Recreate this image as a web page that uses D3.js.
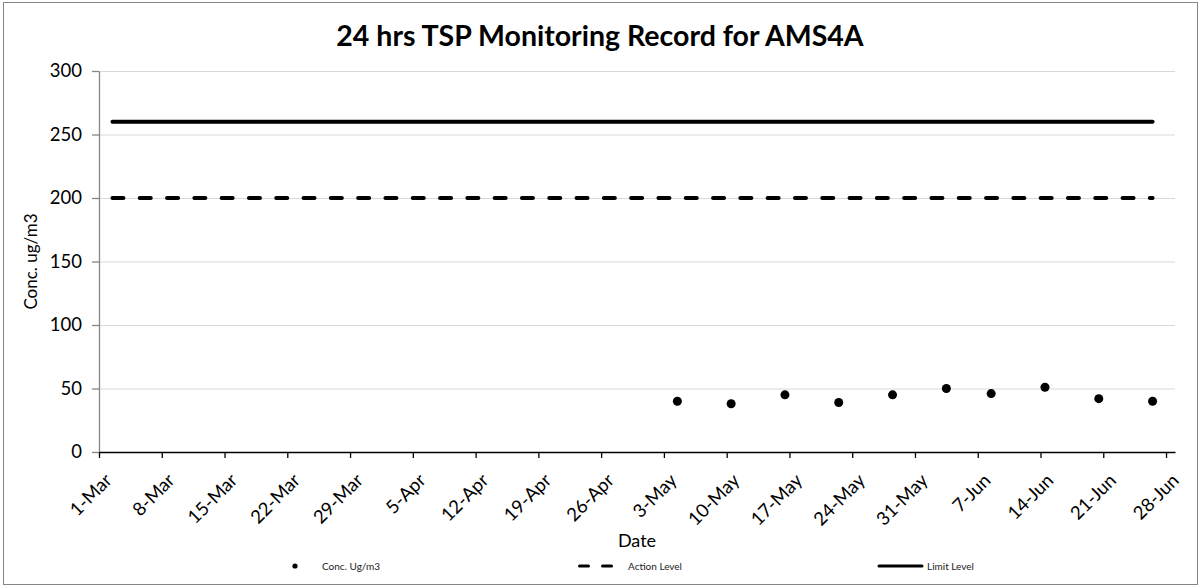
<!DOCTYPE html>
<html>
<head>
<meta charset="utf-8">
<script src="https://cdn.jsdelivr.net/npm/d3@7"></script>
<style>
  html, body { margin: 0; padding: 0; background: #fff; }
  svg { display: block; font-family: Lato, "Open Sans", sans-serif; }
</style>
</head>
<body>
<svg id="chart" width="1199" height="587"></svg>
<script>
// ---- data ----
const sampleDates = ["2023-05-04","2023-05-10","2023-05-16","2023-05-22","2023-05-28",
                     "2023-06-03","2023-06-08","2023-06-14","2023-06-20","2023-06-26"];
const concValues  = [40, 38, 45, 39, 45, 50, 46, 51, 42, 40];
const levelDates  = ["2023-03-02", "2023-06-26"];
const actionLevel = [200, 200];
const limitLevel  = [260, 260];
const xTickLabels = ["1-Mar","8-Mar","15-Mar","22-Mar","29-Mar","5-Apr","12-Apr","19-Apr",
                     "26-Apr","3-May","10-May","17-May","24-May","31-May","7-Jun","14-Jun",
                     "21-Jun","28-Jun"];
const yTicks      = [0, 50, 100, 150, 200, 250, 300];
const xDomain     = ["2023-03-01", "2023-06-29"];
const titleText   = "24 hrs TSP Monitoring Record for AMS4A";
const yTitle      = "Conc. ug/m3";
const xTitle      = "Date";
const legendNames = ["Conc. Ug/m3", "Action Level", "Limit Level"];

// ---- layout ----
const svg = d3.select("#chart");
const plot = { left: 99, right: 1175, top: 71, bottom: 452 };
const parse = d3.utcParse("%Y-%m-%d");
const fmt = d3.utcFormat("%-d-%b");

const x = d3.scaleUtc().domain(xDomain.map(parse)).range([plot.left, plot.right]);
const y = d3.scaleLinear().domain([0, 300]).range([plot.bottom, plot.top]);
const mid = d => d3.utcHour.offset(parse(d), 12); // Excel date axis: points between ticks

// chart border
svg.append("rect").attr("x", 3.5).attr("y", 2.5).attr("width", 1194).attr("height", 582)
  .attr("fill", "#fff").attr("stroke", "#868686").attr("stroke-width", 1);

// gridlines
svg.append("g").selectAll("line").data(yTicks.filter(v => v > 0)).join("line")
  .attr("x1", plot.left).attr("x2", plot.right)
  .attr("y1", d => y(d) + 0.5).attr("y2", d => y(d) + 0.5)
  .attr("stroke", "#d9d9d9").attr("stroke-width", 1);

// y axis
const yAxis = svg.append("g").attr("transform", `translate(${plot.left},0)`)
  .call(d3.axisLeft(y).tickValues(yTicks).tickSize(7).tickSizeOuter(0).tickPadding(10));
yAxis.select(".domain").attr("stroke", "#868686").attr("stroke-width", 1.3);
yAxis.selectAll(".tick line").attr("stroke", "#868686").attr("stroke-width", 1.3);
yAxis.selectAll(".tick text").attr("font-size", 18.5).attr("fill", "#000")
  .attr("font-family", "Lato, sans-serif");

// x axis
const tickDates = xTickLabels.map(s => d3.utcParse("%d-%b-%Y")(s + "-2023"));
const xAxis = svg.append("g").attr("transform", `translate(0,${plot.bottom})`)
  .call(d3.axisBottom(x).tickValues(tickDates).tickFormat(fmt).tickSize(6).tickSizeOuter(0));
xAxis.select(".domain").attr("stroke", "#000").attr("stroke-width", 1.5);
xAxis.selectAll(".tick line").attr("stroke", "#000").attr("stroke-width", 1.3);
xAxis.selectAll(".tick text")
  .attr("font-size", 18.5).attr("fill", "#000").attr("font-family", "Lato, sans-serif")
  .attr("text-anchor", "end").attr("dy", "0.35em")
  .attr("transform", "translate(9,25) rotate(-45)").attr("y", 0).attr("x", 0);

// level lines
const line = d3.line().x(d => x(d.t)).y(d => y(d.v));
const actionData = levelDates.map((d, i) => ({ t: mid(d), v: actionLevel[i] }));
const limitData  = levelDates.map((d, i) => ({ t: mid(d), v: limitLevel[i] }));
svg.append("path").datum(actionData).attr("d", line).attr("fill", "none")
  .attr("stroke", "#000").attr("stroke-width", 4).attr("stroke-linecap", "round")
  .attr("stroke-dasharray", "11,16.3");
svg.append("path").datum(limitData).attr("d", line).attr("fill", "none")
  .attr("stroke", "#000").attr("stroke-width", 4).attr("stroke-linecap", "round");

// points
svg.append("g").selectAll("circle").data(sampleDates.map((d, i) => ({ t: mid(d), v: concValues[i] })))
  .join("circle").attr("cx", d => x(d.t)).attr("cy", d => y(d.v)).attr("r", 4.5).attr("fill", "#000");

// title
svg.append("text").attr("x", 600).attr("y", 46).attr("text-anchor", "middle")
  .attr("font-size", 28.5).attr("font-weight", "bold").attr("fill", "#000").text(titleText);

// axis titles
svg.append("text").attr("transform", `translate(37,${(plot.top + plot.bottom) / 2}) rotate(-90)`)
  .attr("text-anchor", "middle").attr("font-size", 17).attr("fill", "#000").text(yTitle);
svg.append("text").attr("x", (plot.left + plot.right) / 2).attr("y", 547)
  .attr("text-anchor", "middle").attr("font-size", 18).attr("fill", "#000").text(xTitle);

// legend
const ly = 566;
const lg = svg.append("g").attr("font-size", 10).attr("fill", "#222");
lg.append("circle").attr("cx", 295).attr("cy", ly).attr("r", 2.6).attr("fill", "#000");
lg.append("text").attr("x", 322).attr("y", ly).attr("dy", "0.35em").text(legendNames[0]);
lg.append("line").attr("x1", 579.5).attr("x2", 615).attr("y1", ly).attr("y2", ly)
  .attr("stroke", "#000").attr("stroke-width", 3).attr("stroke-linecap", "round")
  .attr("stroke-dasharray", "9,14");
lg.append("text").attr("x", 628).attr("y", ly).attr("dy", "0.35em").text(legendNames[1]);
lg.append("line").attr("x1", 879).attr("x2", 922).attr("y1", ly).attr("y2", ly)
  .attr("stroke", "#000").attr("stroke-width", 3).attr("stroke-linecap", "round");
lg.append("text").attr("x", 927).attr("y", ly).attr("dy", "0.35em").text(legendNames[2]);
</script>
</body>
</html>
